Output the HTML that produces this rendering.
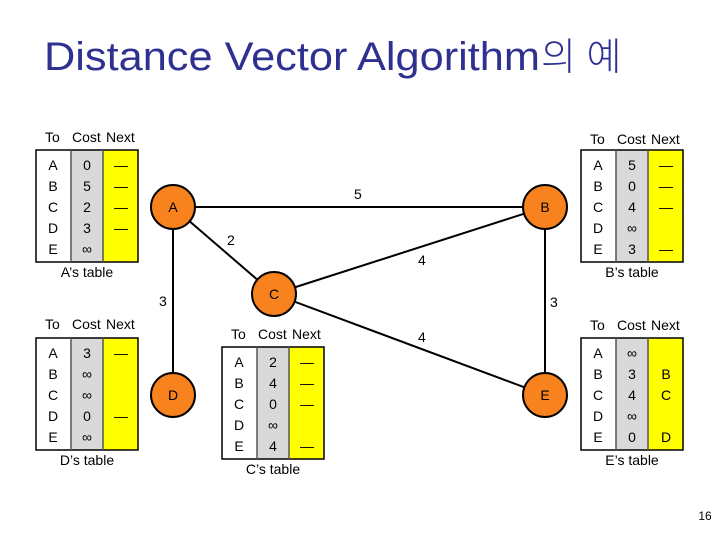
<!DOCTYPE html>
<html><head><meta charset="utf-8"><style>
body{margin:0;background:#fff}
svg{display:block}
text{font-family:"Liberation Sans","Noto Sans CJK KR",sans-serif}
</style></head><body>
<svg width="720" height="540" viewBox="0 0 720 540" xmlns="http://www.w3.org/2000/svg">
<text x="44" y="70" font-size="40" fill="#2e3190" textLength="496" lengthAdjust="spacingAndGlyphs">Distance Vector Algorithm</text>
<text x="541" y="70" font-size="38" fill="#2e3190" font-family="Noto Sans CJK KR, sans-serif" font-weight="300">의 예</text>
<g stroke="#000" stroke-width="2">
<line x1="173" y1="207" x2="545" y2="207"/>
<line x1="173" y1="207" x2="274" y2="294"/>
<line x1="173" y1="207" x2="173" y2="395"/>
<line x1="545" y1="207" x2="274" y2="294"/>
<line x1="545" y1="207" x2="545" y2="395"/>
<line x1="274" y1="294" x2="545" y2="395"/>
</g>
<g font-size="14" fill="#000">
<text x="354" y="199">5</text><text x="227" y="245">2</text><text x="418" y="265">4</text>
<text x="159" y="306">3</text><text x="550" y="307">3</text><text x="418" y="342">4</text>
</g>
<g fill="#f7821e" stroke="#000" stroke-width="2">
<circle cx="173" cy="207" r="22"/><circle cx="545" cy="207" r="22"/><circle cx="274" cy="294" r="22"/>
<circle cx="173" cy="395" r="22"/><circle cx="545" cy="395" r="22"/>
</g>
<g font-size="14" text-anchor="middle">
<text x="173" y="212">A</text><text x="545" y="212">B</text><text x="274" y="299">C</text>
<text x="173" y="400">D</text><text x="545" y="400">E</text>
</g>
<g id="tables"></g>
<text x="705" y="520" font-size="12" text-anchor="middle">16</text>
</svg>
<script>
var T=[
 [36,150,137,"A’s table",["0","5","2","3","∞"],["—","—","—","—",""]],
 [581,150,139,"B’s table",["5","0","4","∞","3"],["—","—","—","","—"]],
 [36,338,324,"D’s table",["3","∞","∞","0","∞"],["—","","","—",""]],
 [222,347,334,"C’s table",["2","4","0","∞","4"],["—","—","—","","—"]],
 [581,338,325,"E’s table",["∞","3","4","∞","0"],["","B","C","","D"]]
];
var g=document.getElementById('tables'),s='';
T.forEach(function(t){
 var x=t[0],y=t[1],hy=t[2];
 s+='<rect x="'+x+'" y="'+y+'" width="35" height="112" fill="#fff"/>';
 s+='<rect x="'+(x+35)+'" y="'+y+'" width="32" height="112" fill="#d9d9d9"/>';
 s+='<rect x="'+(x+67)+'" y="'+y+'" width="35" height="112" fill="#ffff00"/>';
 s+='<rect x="'+x+'" y="'+y+'" width="102" height="112" fill="none" stroke="#000" stroke-width="1.5"/>';
 s+='<line x1="'+(x+35)+'" y1="'+y+'" x2="'+(x+35)+'" y2="'+(y+112)+'" stroke="#555" stroke-width="1.5"/>';
 s+='<line x1="'+(x+67)+'" y1="'+y+'" x2="'+(x+67)+'" y2="'+(y+112)+'" stroke="#555" stroke-width="1.5"/>';
 s+='<text x="'+(x+9)+'" y="'+(hy+5)+'" font-size="14">To</text>';
 s+='<text x="'+(x+36)+'" y="'+(hy+5)+'" font-size="14">Cost</text>';
 s+='<text x="'+(x+70)+'" y="'+(hy+5)+'" font-size="14">Next</text>';
 for(var i=0;i<5;i++){
  var yy=y+20+i*21;
  s+='<text x="'+(x+17)+'" y="'+yy+'" font-size="14" text-anchor="middle">'+"ABCDE"[i]+'</text>';
  s+='<text x="'+(x+51)+'" y="'+yy+'" font-size="14" text-anchor="middle">'+t[4][i]+'</text>';
  s+='<text x="'+(x+85)+'" y="'+yy+'" font-size="14" text-anchor="middle">'+t[5][i]+'</text>';
 }
 s+='<text x="'+(x+51)+'" y="'+(y+127)+'" font-size="14" text-anchor="middle">'+t[3]+'</text>';
});
g.innerHTML=s;
</script>
</body></html>
